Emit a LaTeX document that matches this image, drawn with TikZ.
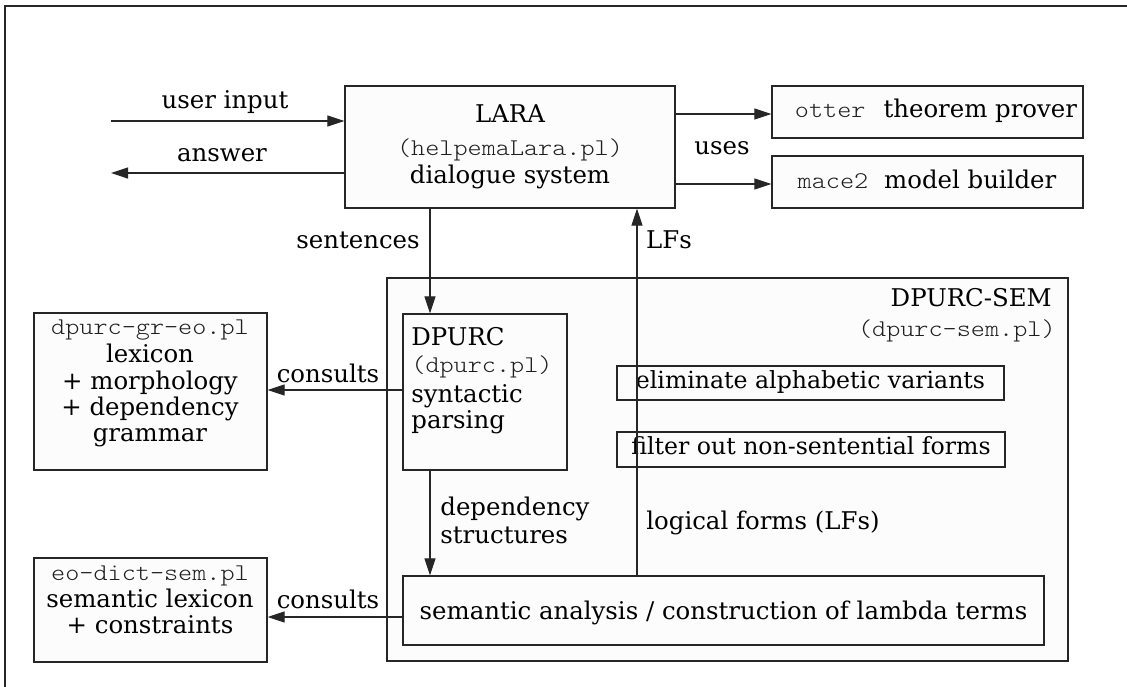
\documentclass[tikz,border=0pt]{standalone}
\usepackage{fontspec}
\setmainfont{DejaVu Serif}
\setmonofont[FakeStretch=1.12]{lmmonolt10-regular.otf}
\usetikzlibrary{arrows.meta,fit}

\begin{document}
\begin{tikzpicture}[x=0.5pt,y=-0.5pt,
  box/.style={draw=black!85, line width=0.65pt, fill=black!1, inner sep=0pt},
  arr/.style={draw=black!85, line width=0.6pt, -{Triangle[length=8.5pt,width=5.5pt]}},
  txt/.style={inner sep=0pt, anchor=mid, font=\fontsize{12.2}{14}\selectfont},
  steptxt/.style={inner sep=0pt, anchor=mid, font=\fontsize{11.8}{14}\selectfont},
  mono/.style={inner sep=0pt, anchor=mid, font=\fontsize{12}{14}\selectfont\ttfamily, text=black!88}
]
\useasboundingbox (0,0) rectangle (1127,686);

% outer frame (runs off the page on the right and at the bottom)
\draw[line width=1.2pt, draw=black!85] (5,700) -- (5,6) -- (1140,6);

% ---------- boxes ----------
\node[box, fit={(345,86) (675,208)}] (lara) {};
\node[box, fit={(772,86) (1083,138)}] (otter) {};
\node[box, fit={(772,156) (1083,208)}] (mace) {};
\node[box, fit={(387,278) (1068,661)}] (dsem) {};
\node[box, fit={(403,314) (567,470)}] (dpurc) {};
\node[box, fit={(617,366) (1004,400)}] (elim) {};
\node[box, fit={(617,432) (1005,467)}] (filt) {};
\node[box, fit={(403,576) (1044,645)}] (sem) {};
\node[box, fit={(34,313) (267,470)}] (gram) {};
\node[box, fit={(34,558) (267,662)}] (dict) {};

% ---------- box texts ----------
\node[txt] (laraA) at (510,117) {LARA};
\node[mono] (laraB) at (510,150) {(helpemaLara.pl)};
\node[txt] (laraC) at (510,178) {dialogue system};

\node[txt] (otterT) at (936,112) {{\fontsize{12}{14}\selectfont\ttfamily\color{black!88}otter}\hspace{9pt}theorem prover};
\node[txt] (maceT) at (927,183) {{\fontsize{12}{14}\selectfont\ttfamily\color{black!88}mace2}\hspace{8pt}model builder};

\node[txt, anchor=east] (dsemA) at (1052,298) {DPURC-SEM};
\node[mono, anchor=east] (dsemB) at (1056,331) {(dpurc-sem.pl)};

\node[txt, anchor=west] (dpA) at (411,337) {DPURC};
\node[mono, anchor=west] (dpB) at (411,367) {(dpurc.pl)};
\node[txt, anchor=west] (dpC) at (411,396) {syntactic};
\node[txt, anchor=west] (dpD) at (411,422) {parsing};

\node[steptxt] (elimT) at (elim.center) {eliminate alphabetic variants};
\node[steptxt] (filtT) at (filt.center) {filter out non-sentential forms};
\node[txt] (semT) at ([yshift=-2pt]sem.center) {semantic analysis / construction of lambda terms};

\node[mono] (gramA) at (150,329) {dpurc-gr-eo.pl};
\node[txt] (gramB) at (150,357) {lexicon};
\node[txt] (gramC) at (150,384) {+ morphology};
\node[txt] (gramD) at (150,410) {+ dependency};
\node[txt] (gramE) at (150,436) {grammar};

\node[mono] (dictA) at (150,575) {eo-dict-sem.pl};
\node[txt] (dictB) at (150,602) {semantic lexicon};
\node[txt] (dictC) at (150,628) {+ constraints};

% ---------- connectors ----------
\coordinate (uin) at (111,121);
\coordinate (aout) at (111,173);
\coordinate (sx) at (430,0);
\coordinate (lx) at (637,0);
\coordinate (c1) at (0,390);
\coordinate (c2) at (0,617);

\draw[arr] (uin) -- (uin -| lara.west);
\draw[arr] (aout -| lara.west) -- (aout);
\draw[arr] (lara.east |- 0,114) -- (otter.west |- 0,114);
\draw[arr] (lara.east |- 0,184) -- (mace.west |- 0,184);
\draw[arr] (sx |- lara.south) -- (sx |- dpurc.north);
\draw[arr] (sx |- dpurc.south) -- (sx |- sem.north);
\draw[arr] (lx |- sem.north) -- (lx |- lara.south);
\draw[arr] (c1 -| dpurc.west) -- (c1 -| gram.east);
\draw[arr] (c2 -| sem.west) -- (c2 -| dict.east);

% ---------- connector labels ----------
\node[txt] (lblIn) at (225,103) {user input};
\node[txt] (lblAns) at (222,156) {answer};
\node[txt] (lblUses) at (722,149) {uses};
\node[txt] (lblSent) at (358,243) {sentences};
\node[txt] (lblLF) at (669,243) {LFs};
\node[txt] (lblC1) at (328,377) {consults};
\node[txt] (lblC2) at (328,603) {consults};
\node[txt, anchor=west] (lblDep1) at (440,509) {dependency};
\node[txt, anchor=west] (lblDep2) at (440,535) {structures};
\node[txt, anchor=west] (lblLog) at (646,523) {logical forms (LFs)};
\end{tikzpicture}
\end{document}
